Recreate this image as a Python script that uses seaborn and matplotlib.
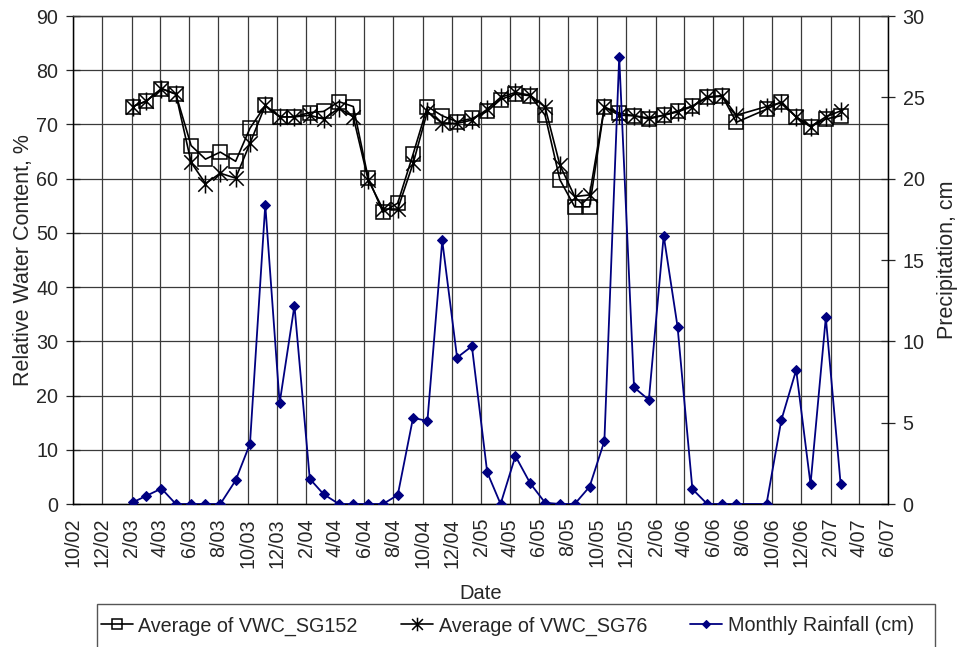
import matplotlib
matplotlib.use("Agg")
import matplotlib.pyplot as plt
import matplotlib.dates as mdates
from matplotlib.path import Path
from matplotlib.patches import Rectangle
from matplotlib.ticker import FuncFormatter, MultipleLocator
import pandas as pd
import seaborn as sns

# Sampling dates (roughly monthly, Aug 2006 not sampled)
dates = [
    "2003-02-03", "2003-03-03", "2003-04-04", "2003-05-04", "2003-06-05",
    "2003-07-05", "2003-08-05", "2003-09-06", "2003-10-06", "2003-11-07",
    "2003-12-07", "2004-01-07", "2004-02-08", "2004-03-08", "2004-04-09",
    "2004-05-09", "2004-06-09", "2004-07-10", "2004-08-10", "2004-09-11",
    "2004-10-11", "2004-11-11", "2004-12-12", "2005-01-12", "2005-02-13",
    "2005-03-13", "2005-04-13", "2005-05-14", "2005-06-14", "2005-07-15",
    "2005-08-15", "2005-09-15", "2005-10-16", "2005-11-16", "2005-12-17",
    "2006-01-17", "2006-02-17", "2006-03-18", "2006-04-18", "2006-05-19",
    "2006-06-19", "2006-07-19", "2006-09-20", "2006-10-21", "2006-11-21",
    "2006-12-21", "2007-01-22", "2007-02-22",
]

vwc_sg152 = [
    73.3, 74.3, 76.6, 75.6, 66.1, 63.6, 64.9, 63.2, 69.3, 73.5,
    71.4, 71.4, 72.2, 72.4, 74.2, 73.3, 60.2, 53.8, 55.5, 64.5,
    73.3, 71.6, 70.5, 71.1, 72.4, 74.6, 75.6, 75.3, 71.7, 59.8,
    54.8, 54.8, 73.2, 72.1, 71.6, 71.0, 71.7, 72.5, 73.4, 75.1,
    75.3, 70.4, 72.8, 74.2, 71.4, 69.6, 71.0, 71.6,
]

vwc_sg76 = [
    73.3, 74.3, 76.6, 75.6, 63.0, 59.1, 61.0, 60.1, 66.5, 73.5,
    71.4, 71.4, 71.7, 71.0, 73.0, 71.4, 59.8, 54.4, 54.4, 62.8,
    72.4, 70.2, 70.2, 70.8, 72.8, 75.0, 75.9, 75.4, 73.2, 62.5,
    56.7, 57.0, 73.2, 71.7, 71.6, 71.2, 71.7, 72.3, 73.3, 75.0,
    75.2, 71.7, 73.3, 74.0, 71.4, 69.6, 71.4, 72.5,
]

rainfall_cm = [
    0.1, 0.5, 0.95, 0.0, 0.0, 0.0, 0.0, 1.45, 3.7, 18.4,
    6.2, 12.2, 1.55, 0.6, 0.0, 0.0, 0.0, 0.0, 0.55, 5.3,
    5.1, 16.2, 9.0, 9.7, 1.95, 0.0, 2.95, 1.27, 0.08, 0.0,
    0.0, 1.06, 3.87, 27.5, 7.17, 6.4, 16.5, 10.9, 0.92, 0.0,
    0.0, 0.0, 0.0, 5.16, 8.24, 1.21, 11.47, 1.21,
]

x_start, x_end = "2002-10-01", "2007-06-01"

df = pd.DataFrame({
    "Date": pd.to_datetime(dates),
    "SG152": vwc_sg152,
    "SG76": vwc_sg76,
    "Rain": rainfall_cm,
})

sns.set_style("white")
plt.rcParams["font.family"] = ["Liberation Sans", "DejaVu Sans"]
TICK_FS = 14.2
LABEL_FS = 15.5

# Asterisk marker: an X crossed by a vertical bar
star_path = Path(
    [(0, -1), (0, 1), (-0.8, -0.8), (0.8, 0.8), (-0.8, 0.8), (0.8, -0.8)],
    [Path.MOVETO, Path.LINETO, Path.MOVETO, Path.LINETO, Path.MOVETO, Path.LINETO],
)

fig = plt.figure(figsize=(9.58, 6.47), dpi=100)
ax = fig.add_axes([73 / 958, 1 - 504 / 647, (888 - 73) / 958, (504 - 16) / 647])
ax2 = ax.twinx()

grid_c = "#3a3a3a"

sns.lineplot(data=df, x="Date", y="SG152", ax=ax, color="black", lw=1.2,
             marker="s", markersize=10, markerfacecolor="none",
             markeredgecolor="black", markeredgewidth=1.1,
             label="Average of VWC_SG152", legend=False, zorder=4)
sns.lineplot(data=df, x="Date", y="SG76", ax=ax, color="black", lw=1.2,
             marker=star_path, markersize=13, markerfacecolor="none",
             markeredgecolor="black", markeredgewidth=1.1,
             label="Average of VWC_SG76", legend=False, zorder=4)
sns.lineplot(data=df, x="Date", y="Rain", ax=ax2, color="#000080", lw=1.3,
             marker="D", markersize=5.5, markeredgecolor="#000080",
             markerfacecolor="#000080",
             label="Monthly Rainfall (cm)", legend=False, zorder=4)

ax.set_xlim(pd.Timestamp(x_start), pd.Timestamp(x_end))
ax.set_ylim(0, 90)
ax2.set_ylim(0, 30)
ax.yaxis.set_major_locator(MultipleLocator(10))
ax2.yaxis.set_major_locator(MultipleLocator(5))

ax.xaxis.set_major_locator(mdates.MonthLocator(bymonth=[2, 4, 6, 8, 10, 12]))
ax.xaxis.set_major_formatter(
    FuncFormatter(lambda v, p: f"{mdates.num2date(v).month}/{mdates.num2date(v).strftime('%y')}")
)
plt.setp(ax.get_xticklabels(), rotation=90, ha="center", va="top")

ax.grid(True, axis="both", color=grid_c, lw=0.9)
ax.set_axisbelow(True)
ax2.grid(False)

for a in (ax, ax2):
    for s in a.spines.values():
        s.set_color("black")
        s.set_linewidth(0.9)
ax.spines["top"].set_color(grid_c)
ax2.spines["top"].set_color(grid_c)

ax.tick_params(axis="y", direction="inout", length=10, width=0.9, pad=5.5, labelsize=TICK_FS)
ax2.tick_params(axis="y", direction="inout", length=10, width=0.9, pad=5.5, labelsize=TICK_FS)
ax.tick_params(axis="x", direction="inout", length=8, width=0.9, pad=6, labelsize=TICK_FS)

ax.set_xlabel("Date", fontsize=LABEL_FS - 1, labelpad=12)
ax.set_ylabel("Relative Water Content, %", fontsize=LABEL_FS, labelpad=2)
ax2.set_ylabel("Precipitation, cm", fontsize=LABEL_FS, labelpad=9)

# Legend strip below the plot, boxed, running off the bottom edge
fig.patches.append(Rectangle((97 / 958, -0.05), (935 - 97) / 958, 1 - 604 / 647 + 0.05,
                             transform=fig.transFigure, fill=False,
                             edgecolor="#555555", lw=1.0))
h1, l1 = ax.get_legend_handles_labels()
h2, l2 = ax2.get_legend_handles_labels()
fig.legend(h1 + h2, l1 + l2, loc="center left", ncol=3,
           bbox_to_anchor=(99 / 958, 1 - 626 / 647),
           frameon=False, fontsize=TICK_FS, markerscale=0.75,
           handlelength=1.6, handletextpad=0.3, columnspacing=2.2,
           borderaxespad=0, borderpad=0.1)

fig.savefig("out.png", dpi=100)
